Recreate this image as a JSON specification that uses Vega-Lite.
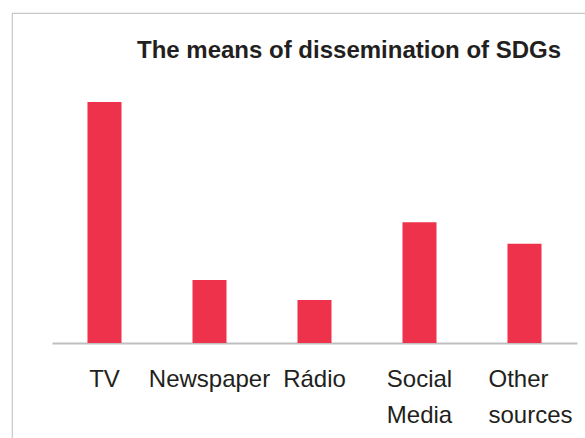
{
  "$schema": "https://vega.github.io/schema/vega-lite/v6.json",
  "autosize": {"type": "none"},
  "padding": {"left": 12, "top": 13, "right": 0, "bottom": 0},
  "width": 600,
  "height": 440,
  "background": "white",
  "config": {
    "view": {"stroke": "#c8c8c8", "strokeWidth": 1.2},
    "font": "Liberation Sans"
  },
  "title": {
    "text": "The means of dissemination of SDGs",
    "font": "Liberation Sans",
    "fontSize": 24,
    "fontWeight": "bold",
    "color": "#231f20",
    "anchor": "start",
    "frame": "group",
    "dx": 125,
    "dy": 26,
    "baseline": "alphabetic",
    "offset": -43
  },
  "data": {
    "values": [
      {"source": "TV", "percent": 42.5},
      {"source": "Newspaper", "percent": 11.1},
      {"source": "Rádio", "percent": 7.6},
      {"source": "Social Media", "percent": 21.3},
      {"source": "Other sources", "percent": 17.5}
    ]
  },
  "mark": {"type": "bar", "color": "#ef324b"},
  "encoding": {
    "x": {
      "field": "source",
      "type": "nominal",
      "sort": null,
      "scale": {"range": [40, 565], "paddingInner": 0.676, "paddingOuter": 0.338},
      "axis": {
        "title": null,
        "orient": "bottom",
        "offset": -110,
        "ticks": false,
        "domainColor": "#bfbfbf",
        "domainWidth": 2,
        "labelAngle": 0,
        "labelFont": "Liberation Sans",
        "labelFontSize": 24,
        "labelColor": "#231f20",
        "labelBaseline": "alphabetic",
        "labelPadding": 43,
        "labelLineHeight": 36,
        "labelAlign": {"condition": {"test": "datum.value == 'Other sources'", "value": "left"}, "value": "center"},
        "labelOffset": {"condition": {"test": "datum.value == 'Other sources'", "value": -36}, "value": 0},
        "labelExpr": "split(datum.label, ' ')"
      }
    },
    "y": {
      "field": "percent",
      "type": "quantitative",
      "scale": {"domain": [0, 58.2], "range": [330, 0]},
      "axis": null
    },
    "y2": {"datum": 0}
  }
}
